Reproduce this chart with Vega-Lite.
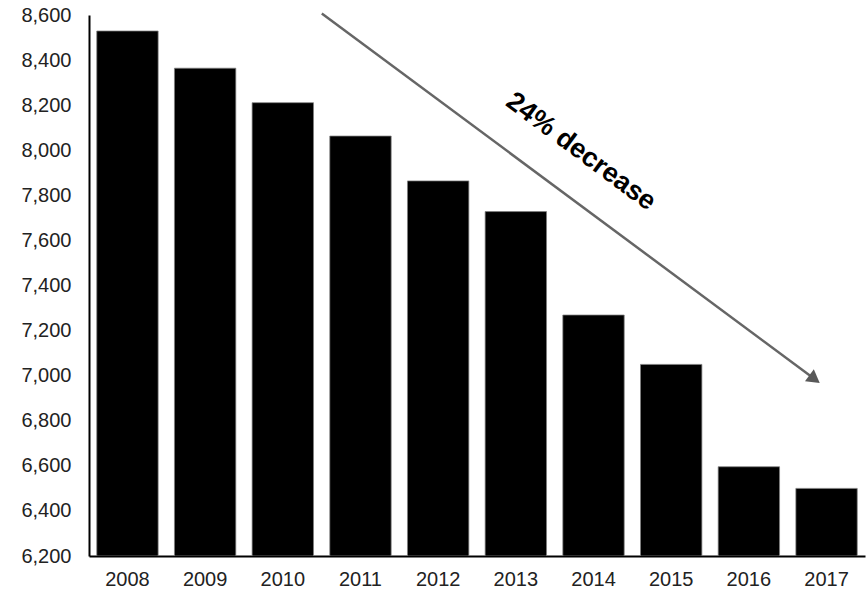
{
  "$schema": "https://vega.github.io/schema/vega-lite/v6.json",
  "autosize": "none",
  "width": 776,
  "height": 541,
  "padding": {"left": 89, "top": 15, "right": 1, "bottom": 39},
  "background": "white",
  "config": {
    "view": {"stroke": null},
    "font": "Liberation Sans"
  },
  "layer": [
    {
      "data": {
        "values": [
          {"year": "2008", "value": 8529},
          {"year": "2009", "value": 8364},
          {"year": "2010", "value": 8211},
          {"year": "2011", "value": 8063},
          {"year": "2012", "value": 7864},
          {"year": "2013", "value": 7728},
          {"year": "2014", "value": 7269},
          {"year": "2015", "value": 7050},
          {"year": "2016", "value": 6596},
          {"year": "2017", "value": 6500}
        ]
      },
      "mark": {"type": "bar", "color": "black", "stroke": "#7f7f7f", "strokeWidth": 0.75, "clip": true},
      "encoding": {
        "x": {
          "field": "year", "type": "ordinal",
          "scale": {"paddingInner": 0.21, "paddingOuter": 0.1},
          "axis": {
            "title": null, "labelAngle": 0, "ticks": false, "domainColor": "black", "domainWidth": 2,
            "labelFontSize": 20, "labelColor": "#222", "labelPadding": 13
          }
        },
        "y": {
          "field": "value", "type": "quantitative",
          "scale": {"domain": [6200, 8600], "zero": false, "nice": false},
          "axis": {
            "title": null, "values": [6200, 6400, 6600, 6800, 7000, 7200, 7400, 7600, 7800, 8000, 8200, 8400, 8600],
            "format": ",d", "grid": false, "ticks": false, "domainColor": "black", "domainWidth": 2,
            "labelFontSize": 20, "labelColor": "#222", "labelPadding": 18
          }
        },
        "y2": {"datum": 6200}
      }
    },
    {
      "data": {"values": [{"x1": 3.0, "y1": 8607, "x2": 9.35, "y2": 6985, "label": "24% decrease", "tx": 6.34, "ty": 7994}]},
      "layer": [
        {
          "mark": {"type": "rule", "color": "#666666", "strokeWidth": 2.5},
          "encoding": {
            "x": {"field": "x1", "type": "quantitative", "scale": {"domain": [0, 10]}, "axis": null},
            "y": {"field": "y1", "type": "quantitative"},
            "x2": {"field": "x2"},
            "y2": {"field": "y2"}
          }
        },
        {
          "mark": {"type": "point", "shape": "triangle-right", "filled": true, "color": "#595959", "opacity": 1, "size": 220, "angle": 36.6},
          "encoding": {
            "x": {"field": "x2", "type": "quantitative", "scale": {"domain": [0, 10]}, "axis": null},
            "y": {"field": "y2", "type": "quantitative"}
          }
        },
        {
          "mark": {"type": "text", "fontWeight": "bold", "fontSize": 27, "angle": 36.6, "color": "black", "align": "center", "baseline": "middle"},
          "encoding": {
            "x": {"field": "tx", "type": "quantitative", "scale": {"domain": [0, 10]}, "axis": null},
            "y": {"field": "ty", "type": "quantitative"},
            "text": {"field": "label"}
          }
        }
      ]
    }
  ],
  "resolve": {"scale": {"x": "independent"}}
}
